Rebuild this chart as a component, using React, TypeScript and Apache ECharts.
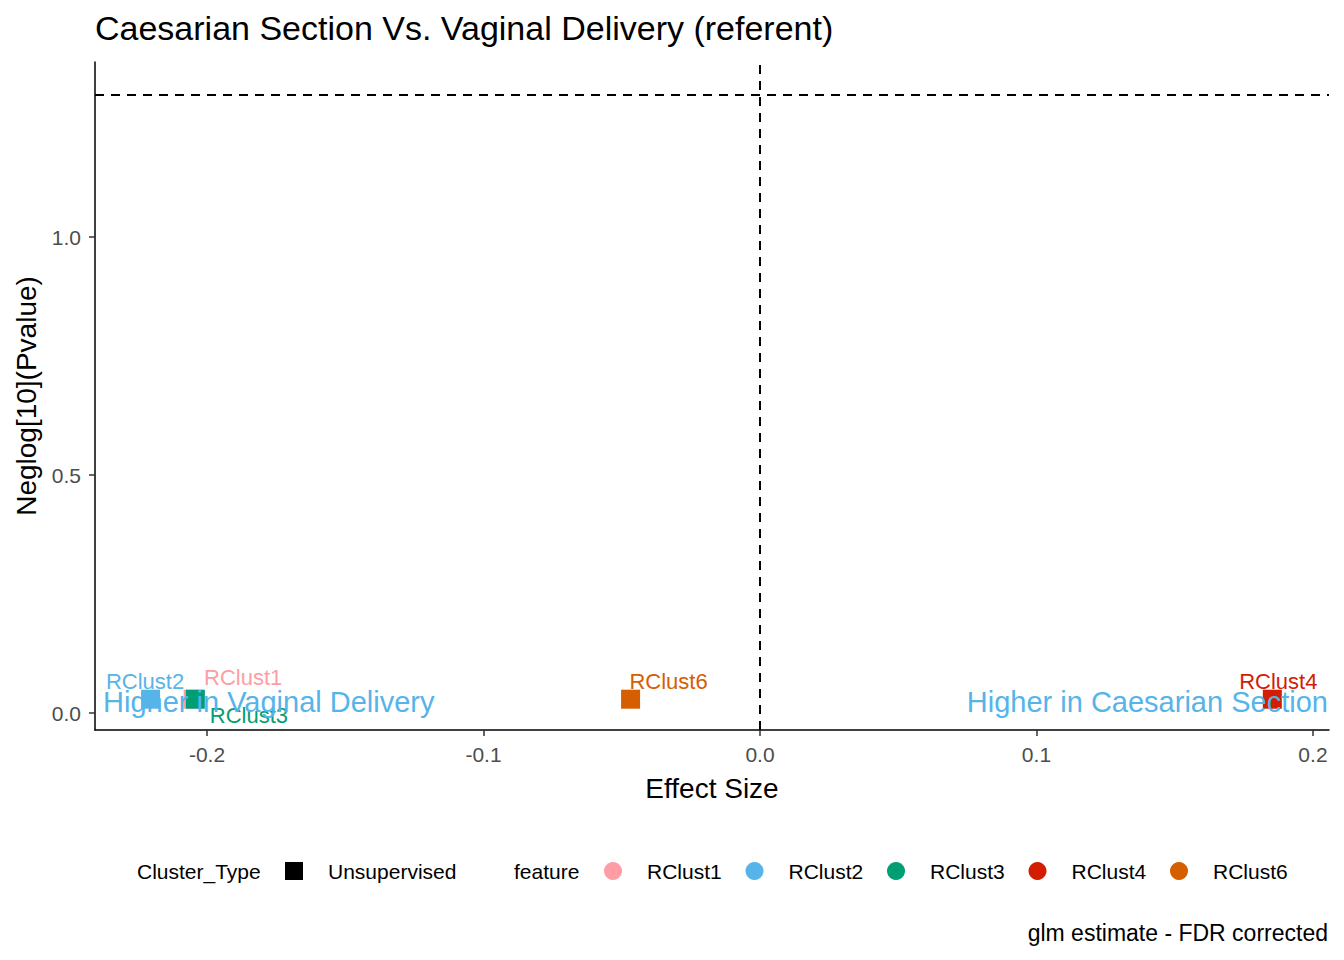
import React, { useEffect, useRef } from "react";
import * as echarts from "echarts";

// ---- data ----
const features = ["RClust1", "RClust2", "RClust3", "RClust4", "RClust6"];
const effectSize = [-0.205, -0.2204, -0.2042, 0.1853, -0.0468];
const negLogP = [0.029, 0.029, 0.029, 0.029, 0.029];
const featureColors = ["#FF9DA6", "#56B4E9", "#009E73", "#D41C00", "#D55E00"];
const xTicks = [-0.2, -0.1, 0.0, 0.1, 0.2];
const yTicks = [0.0, 0.5, 1.0];
const pThreshold = 1.305; // ~ -log10(0.05)
const clusterTypes = ["Unsupervised"];
const annotLeftText = "Higher in Vaginal Delivery";
const annotRightText = "Higher in Caesarian Section";

// ---- layout / style (not data) ----
const labelOffsets: [number, number][] = [
  [50, -22],
  [-5.5, -18],
  [53.5, 16],
  [6, -18],
  [38, -18],
];
const FONT = "Liberation Sans, Arial, sans-serif";
const X_MIN = -0.2405;
const X_MAX = 0.2058;
const Y_MIN = -0.0357;
const Y_MAX = 1.368;

export default function App() {
  const ref = useRef<HTMLDivElement>(null);

  useEffect(() => {
    if (!ref.current) return;
    const chart = echarts.init(ref.current, undefined, { renderer: "svg" });

    const pointData = features.map((f, i) => ({
      name: f,
      value: [effectSize[i], negLogP[i]],
      itemStyle: { color: featureColors[i], opacity: 1 },
      label: {
        show: true,
        position: "inside",
        offset: labelOffsets[i],
        formatter: f,
        color: featureColors[i],
        fontSize: 22,
        fontFamily: FONT,
      },
    }));

    const legendY = 871;
    const txt = (text: string, x: number, y: number, size = 21, align = "left") => ({
      type: "text",
      style: {
        text,
        x,
        y,
        font: `${size}px ${FONT}`,
        fill: "#000",
        align,
        textAlign: align,
        verticalAlign: "middle",
        textVerticalAlign: "middle",
      },
    });
    const graphics: any[] = [
      txt("Cluster_Type", 137, legendY),
      ...clusterTypes.flatMap((c) => [
        { type: "rect", shape: { x: 285, y: legendY - 9, width: 18, height: 18 }, style: { fill: "#000" } },
        txt(c, 328, legendY),
      ]),
      txt("feature", 514, legendY),
      ...features.flatMap((f, i) => [
        { type: "circle", shape: { cx: 613 + i * 141.5, cy: legendY, r: 9 }, style: { fill: featureColors[i] } },
        txt(f, 647 + i * 141.5, legendY),
      ]),
      txt("glm estimate - FDR corrected", 1328, 933, 23, "right"),
    ];

    chart.setOption({
      animation: false,
      backgroundColor: "#fff",
      title: {
        text: "Caesarian Section Vs. Vaginal Delivery (referent)",
        left: 90,
        top: 6,
        textStyle: { fontSize: 34, fontWeight: "normal", color: "#000", fontFamily: FONT },
      },
      grid: { left: 95, right: 15, top: 62, bottom: 230 },
      xAxis: {
        type: "value",
        min: X_MIN,
        max: X_MAX,
        name: "Effect Size",
        nameLocation: "middle",
        nameGap: 44,
        nameTextStyle: { fontSize: 28, color: "#000", fontFamily: FONT },
        axisLine: { show: true, onZero: false, lineStyle: { color: "#000", width: 1.5 } },
        axisTick: { show: true, length: 6, customValues: xTicks, lineStyle: { color: "#333", width: 1.5 } },
        axisLabel: {
          customValues: xTicks,
          formatter: (v: number) => v.toFixed(1),
          fontSize: 21,
          color: "#4D4D4D",
          fontFamily: FONT,
          margin: 14,
        },
        splitLine: { show: false },
      },
      yAxis: {
        type: "value",
        min: Y_MIN,
        max: Y_MAX,
        name: "Neglog[10](Pvalue)",
        nameLocation: "middle",
        nameGap: 54,
        nameTextStyle: { fontSize: 28, color: "#000", fontFamily: FONT },
        axisLine: { show: true, onZero: false, lineStyle: { color: "#000", width: 1.5 } },
        axisTick: { show: true, length: 6, customValues: yTicks, lineStyle: { color: "#333", width: 1.5 } },
        axisLabel: {
          customValues: yTicks,
          formatter: (v: number) => v.toFixed(1),
          fontSize: 21,
          color: "#4D4D4D",
          fontFamily: FONT,
          margin: 14,
        },
        splitLine: { show: false },
      },
      series: [
        {
          type: "scatter",
          symbol: "rect",
          symbolSize: 19,
          data: pointData,
          itemStyle: { opacity: 1 },
          z: 3,
          markLine: {
            silent: true,
            symbol: "none",
            label: { show: false },
            lineStyle: { color: "#000", type: [9, 7], width: 2, opacity: 1 },
            data: [{ xAxis: 0 }, { yAxis: pThreshold }],
          },
        },
        {
          type: "scatter",
          symbolSize: 0,
          z: 4,
          silent: true,
          itemStyle: { opacity: 1 },
          data: [
            {
              value: [-0.2376, 0.023],
              label: {
                show: true,
                position: "right",
                distance: 0,
                formatter: annotLeftText,
                color: "#56B4E9",
                fontSize: 29,
                fontFamily: FONT,
              },
            },
            {
              value: [0.2054, 0.023],
              label: {
                show: true,
                position: "left",
                distance: 0,
                formatter: annotRightText,
                color: "#56B4E9",
                fontSize: 29,
                fontFamily: FONT,
              },
            },
          ],
        },
      ],
      graphic: graphics,
    });

    return () => chart.dispose();
  }, []);

  return (
    <div
      ref={ref}
      style={{ position: "fixed", left: 0, top: 0, width: 1344, height: 960, background: "#fff" }}
    />
  );
}
